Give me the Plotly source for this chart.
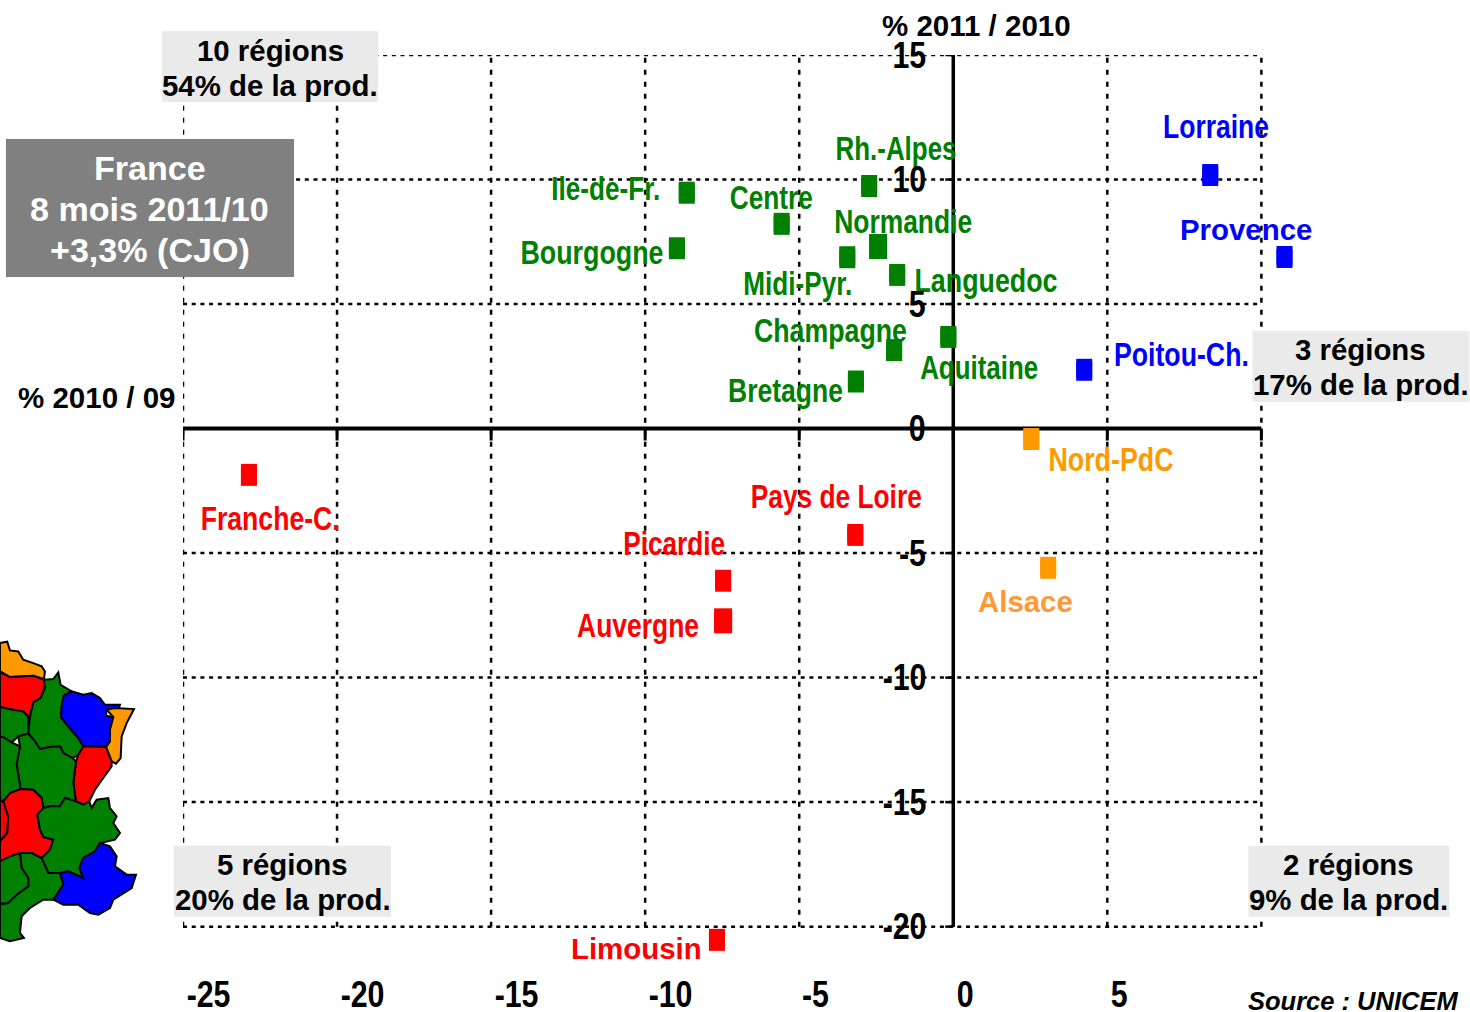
import json
import plotly.graph_objects as go

# ---- data ----
regions = ["Ile-de-Fr.", "Centre", "Rh.-Alpes", "Normandie", "Midi-Pyr.", "Bourgogne", "Languedoc",
           "Champagne", "Bretagne", "Aquitaine", "Lorraine", "Provence", "Poitou-Ch.", "Nord-PdC",
           "Alsace", "Franche-C.", "Picardie", "Pays de Loire", "Auvergne", "Limousin"]
x_2010_09 = [-8.65, -5.57, -2.73, -2.44, -3.44, -8.97, -1.82, -1.92, -3.16, -0.16,
             8.34, 10.75, 4.25, 2.53, 3.08, -22.86, -7.47, -3.18, -7.47, -7.67]
y_2011_10 = [9.47, 8.22, 9.74, 7.31, 6.88, 7.24, 6.17, 3.15, 1.89, 3.68,
             10.18, 6.89, 2.36, -0.42, -5.59, -1.86, -6.11, -4.27, -7.72, -20.53]
GREEN, BLUE, ORANGE, RED = "#008000", "#0000ff", "#ff9900", "#ff0000"
colors = [GREEN] * 10 + [BLUE] * 3 + [ORANGE] * 2 + [RED] * 5
large_markers = {"Normandie", "Auvergne"}

x_ticks = [-25, -20, -15, -10, -5, 0, 5, 10]
y_ticks = [-20, -15, -10, -5, 0, 5, 10, 15]
x_tick_labels = ["-25", "-20", "-15", "-10", "-5", "0", "5"]

# label: centre x px, centre y px, drawn width px (condensed labels)
label_pos = {
    "Lorraine": (1216, 127, 106), "Provence": (1246, 230, None), "Poitou-Ch.": (1181, 355, 135),
    "Rh.-Alpes": (896, 149, 121), "Ile-de-Fr.": (606, 189, 109), "Centre": (771, 198, 83),
    "Normandie": (903, 222, 138), "Bourgogne": (592, 253, 143), "Midi-Pyr.": (798, 284, 109),
    "Languedoc": (986, 281, 143), "Champagne": (830, 331, 153), "Aquitaine": (979, 368, 118),
    "Bretagne": (785, 391, 115), "Nord-PdC": (1111, 460, 125), "Alsace": (1025, 602, None),
    "Pays de Loire": (836, 497, 171), "Picardie": (674, 544, 102), "Franche-C.": (270, 519, 139),
    "Auvergne": (638, 626, 122), "Limousin": (636, 949, None),
}

W, H = 1470, 1012
# pixel positions of the value axes; the plot area extends past them so that
# Provence and Limousin, which lie beyond the grid, stay visible
X_MIN, X_MAX, Y_MIN, Y_MAX = -25, 10, -20, 15
X_PAD, Y_PAD = 12, -21.5
PX_X_MIN, PX_X_MAX, PX_Y_MIN, PX_Y_MAX = 183, 1261, 927, 55
SX = (PX_X_MAX - PX_X_MIN) / (X_MAX - X_MIN)
SY = (PX_Y_MIN - PX_Y_MAX) / (Y_MAX - Y_MIN)
L, T = PX_X_MIN, PX_Y_MAX
R = PX_X_MIN + (X_PAD - X_MIN) * SX
B = PX_Y_MIN + (Y_MIN - Y_PAD) * SY
SANS = "Liberation Sans"


def px(x):
    return (x - L) / (R - L)


def py(y):
    return (B - y) / (B - T)


fig = go.Figure()

# axis tick marks, hanging off the axes
fig.add_trace(go.Scatter(x=x_ticks, y=[0] * len(x_ticks), mode="markers", marker=dict(size=1, opacity=0),
                         error_y=dict(type="constant", symmetric=False, value=0, valueminus=0.48,
                                      thickness=3, width=0, color="black"),
                         showlegend=False, hoverinfo="skip"))
fig.add_trace(go.Scatter(x=[0] * len(y_ticks), y=y_ticks, mode="markers", marker=dict(size=1, opacity=0),
                         error_x=dict(type="constant", symmetric=False, value=0, valueminus=0.26,
                                      thickness=2.5, width=0, color="black"),
                         showlegend=False, hoverinfo="skip"))

# region points: rectangles, taller than wide
for name, xv, yv, col in zip(regions, x_2010_09, y_2011_10, colors):
    big = name in large_markers
    w = 18 if big else 16
    half = (12.5 if big else 11) / SY
    fig.add_trace(go.Scatter(x=[xv], y=[yv], mode="markers", name=name, showlegend=False,
                             marker=dict(symbol="square", size=w, color=col, line=dict(width=0)),
                             error_y=dict(type="constant", value=half, thickness=w, width=0, color=col),
                             cliponaxis=False))

annotations = []
shapes = []

# dotted grid and solid axes, in data coordinates
GRID_DOT_H = "4px,4.7px"
GRID_DOT_V = "5px,7px"
for v in x_ticks:
    shapes.append(dict(type="line", xref="x", yref="y", x0=v, x1=v, y0=Y_MIN, y1=Y_MAX, layer="below",
                       line=dict(color="black", width=2.5, dash=GRID_DOT_V)))
for v in y_ticks:
    if v != 0:
        shapes.append(dict(type="line", xref="x", yref="y", x0=X_MIN, x1=X_MAX, y0=v, y1=v, layer="below",
                           line=dict(color="black", width=2.5, dash=GRID_DOT_H)))
shapes.append(dict(type="line", xref="x", yref="y", x0=X_MIN, x1=X_MAX, y0=0, y1=0, layer="below",
                   line=dict(color="black", width=4)))
shapes.append(dict(type="line", xref="x", yref="y", x0=0, x1=0, y0=Y_MIN, y1=Y_MAX, layer="below",
                   line=dict(color="black", width=3.5)))


def text(s, cx, cy, size, color="black", family=SANS, bold=True, italic=False):
    t = s
    if bold:
        t = f"<b>{t}</b>"
    if italic:
        t = f"<i>{t}</i>"
    annotations.append(dict(text=t, xref="paper", yref="paper", x=px(cx), y=py(cy), xanchor="center",
                            yanchor="middle", showarrow=False,
                            font=dict(family=family, size=size, color=color)))


narrow_widths = {}
for name, col in zip(regions, colors):
    cx, cy, width = label_pos[name]
    if width is None:
        text(name, cx, cy, 29.4, "#ff9933" if name == "Alsace" else col)
    else:
        text(name, cx, cy, 33, col)
        narrow_widths[name] = width

for v in y_ticks:
    annotations.append(dict(text=f"<b>{v}</b>", xref="x", yref="y", x=0, y=v, xshift=-25, xanchor="right",
                            yanchor="middle", showarrow=False,
                            font=dict(family=SANS, size=37, color="black")))
x_shift = {-25: 49, -20: 49, -15: 49, -10: 49, -5: 32, 0: 23, 5: 23}
for v, lab in zip(x_ticks, x_tick_labels):
    annotations.append(dict(text=f"<b>{lab}</b>", xref="x", yref="paper", x=v, y=py(995), xshift=x_shift[v],
                            xanchor="right", yanchor="middle", showarrow=False,
                            font=dict(family=SANS, size=37, color="black")))

text("% 2011 / 2010", 976, 25, 29.5)
text("% 2010 / 09", 97, 398, 29.5)
text("Source : UNICEM", 1353, 1001, 25.5, italic=True)


def box(x0, y0, x1, y1, color, lines, ys, size, tcolor="black"):
    shapes.append(dict(type="rect", xref="paper", yref="paper", x0=px(x0), x1=px(x1), y0=py(y0), y1=py(y1),
                       fillcolor=color, line=dict(width=0), layer="above"))
    for s, y in zip(lines, ys):
        text(s, (x0 + x1) / 2, y, size, tcolor)


box(162, 31, 378, 102, "#eaeaea", ["10 régions", "54% de la prod."], [50, 86], 29.4)
box(1252, 331, 1469, 402, "#eaeaea", ["3 régions", "17% de la prod."], [350, 385], 29.4)
box(174, 846, 391, 917, "#eaeaea", ["5 régions", "20% de la prod."], [865, 900], 29.4)
box(1248, 846, 1449, 917, "#eaeaea", ["2 régions", "9% de la prod."], [865, 900], 29.4)
box(6, 139, 294, 277, "#808080", ["France", "8 mois 2011/10", "+3,3% (CJO)"], [168, 209, 250], 34.1, "white")

# inset map (outline traced in crop pixels: crop x/3, 630 + crop y/3)
map_regions = [
    (ORANGE, [(0, 40), (22, 36), (30, 62), (55, 65), (70, 90), (100, 100), (125, 110), (135, 125), (132, 148),
              (100, 138), (60, 140), (30, 142), (0, 124)]),
    (RED, [(0, 128), (30, 142), (60, 140), (100, 138), (132, 150), (132, 175), (122, 205), (100, 218), (95, 240),
           (88, 262), (70, 245), (40, 240), (15, 235), (0, 232)]),
    (GREEN, [(132, 150), (160, 148), (175, 128), (182, 165), (215, 185), (195, 195), (185, 230), (183, 262),
             (205, 290), (235, 325), (250, 350), (235, 375), (218, 385), (190, 370), (180, 350), (150, 352),
             (120, 358), (105, 335), (85, 312), (90, 262), (100, 218), (122, 205), (135, 175)]),
    (GREEN, [(0, 232), (40, 240), (70, 245), (85, 262), (85, 312), (55, 320), (35, 338), (15, 325), (0, 320)]),
    (BLUE, [(190, 200), (215, 185), (250, 195), (275, 190), (300, 205), (315, 225), (360, 225), (355, 240),
            (320, 240), (318, 258), (340, 262), (330, 300), (330, 335), (318, 352), (270, 350), (250, 350),
            (235, 325), (205, 290), (183, 262), (185, 230)]),
    (ORANGE, [(320, 240), (345, 235), (402, 238), (380, 280), (365, 320), (362, 385), (348, 402), (335, 395),
              (318, 352), (330, 335), (330, 300), (340, 262)]),
    (RED, [(250, 350), (270, 350), (318, 352), (335, 395), (335, 410), (310, 445), (285, 480), (268, 515),
           (250, 525), (228, 515), (220, 460), (228, 395), (235, 375)]),
    (GREEN, [(55, 320), (85, 312), (105, 335), (120, 358), (150, 352), (180, 350), (190, 370), (218, 385),
             (228, 395), (220, 460), (228, 515), (195, 505), (180, 530), (150, 530), (130, 535), (125, 505),
             (100, 480), (62, 478), (50, 405), (60, 350)]),
    (GREEN, [(0, 320), (15, 325), (35, 338), (60, 350), (50, 405), (62, 478), (30, 490), (10, 515), (0, 510)]),
    (RED, [(0, 515), (10, 515), (25, 560), (22, 610), (0, 635)]),
    (RED, [(10, 515), (30, 490), (62, 478), (100, 480), (125, 505), (130, 535), (112, 555), (120, 600), (130, 622),
           (160, 630), (150, 660), (125, 685), (95, 670), (60, 670), (30, 680), (0, 695), (0, 635), (22, 610),
           (25, 560)]),
    (GREEN, [(130, 535), (150, 530), (180, 530), (195, 505), (228, 515), (250, 525), (268, 515), (275, 535),
             (290, 510), (325, 505), (330, 535), (350, 560), (340, 580), (360, 610), (345, 630), (300, 640),
             (285, 665), (250, 685), (238, 715), (250, 745), (205, 725), (180, 730), (145, 730), (125, 685),
             (150, 660), (160, 630), (130, 622), (120, 600), (112, 555)]),
    (BLUE, [(300, 640), (330, 650), (350, 680), (345, 710), (380, 735), (408, 735), (395, 775), (340, 810),
            (330, 835), (295, 855), (270, 850), (235, 825), (190, 825), (160, 810), (190, 765), (180, 730),
            (205, 725), (250, 745), (238, 715), (250, 685), (285, 665)]),
    (GREEN, [(60, 670), (95, 670), (125, 685), (145, 730), (180, 730), (190, 765), (160, 810), (130, 810),
             (90, 835), (65, 860), (60, 910), (72, 925), (30, 935), (0, 925), (0, 822), (25, 820), (50, 795),
             (85, 770), (85, 745), (65, 715)]),
    (GREEN, [(0, 695), (30, 680), (60, 670), (65, 715), (85, 745), (85, 770), (50, 795), (25, 820), (0, 822)]),
]
for col, pts in map_regions:
    d = "M " + " L ".join(f"{px(a / 3):.5f},{py(630 + b / 3):.5f}" for a, b in pts) + " Z"
    shapes.append(dict(type="path", xref="paper", yref="paper", path=d, fillcolor=col,
                       line=dict(color="black", width=2), layer="above"))

hidden = dict(visible=False, showgrid=False, zeroline=False, showticklabels=False)
fig.update_layout(
    width=W, height=H, autosize=False, paper_bgcolor="white", plot_bgcolor="white",
    margin=dict(l=L, r=W - R, t=T, b=H - B, pad=0), showlegend=False,
    xaxis=dict(range=[X_MIN, X_PAD], **hidden),
    yaxis=dict(range=[Y_PAD, Y_MAX], **hidden),
    annotations=annotations, shapes=shapes,
)

# The reference's labels are horizontally condensed and no narrow face is installed,
# so the real text is squeezed in place once drawn.
post = """
document.body.style.margin = '0';
document.body.style.overflow = 'hidden';
(function () {
  var widths = %s;
  var gd = document.getElementById('{plot_id}');
  function squeeze() {
    gd.querySelectorAll('.annotation-text').forEach(function (el) {
      var s = el.textContent, b = el.getBBox();
      if (!b.width) return;
      var k, o;
      if (Object.prototype.hasOwnProperty.call(widths, s)) { k = widths[s] / b.width; o = b.x + b.width / 2; }
      else if (/^-?\\d+$/.test(s)) { k = 0.82; o = b.x + b.width; }
      else return;
      el.setAttribute('transform', 'translate(' + o + ',0) scale(' + k + ',1) translate(' + (-o) + ',0)');
    });
  }
  squeeze();
  if (gd.on) gd.on('plotly_afterplot', squeeze);
  setTimeout(squeeze, 50);
})();
""" % json.dumps(narrow_widths)
fig.write_html("out.html", post_script=post, config=dict(displayModeBar=False))
